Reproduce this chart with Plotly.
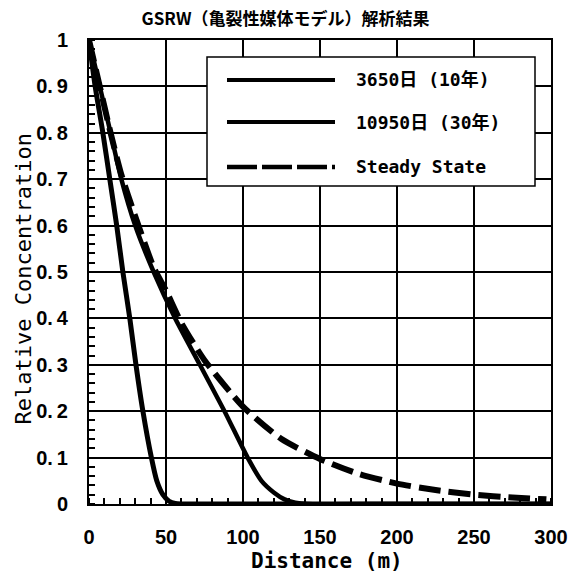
import plotly.graph_objects as go

# Distance (m) and relative concentration for each case
dist_10y = [0, 4, 9, 13.5, 18, 22, 26.5, 30.5, 35, 40.5, 44, 48, 52, 56, 60, 100, 200, 300]
conc_10y = [1.0, 0.9, 0.8, 0.7, 0.6, 0.5, 0.4, 0.3, 0.2, 0.1, 0.05, 0.02, 0.006, 0.001, 0.0, 0.0, 0.0, 0.0]

dist_30y = [0, 7, 14, 21, 30, 42, 56, 72, 88, 103, 112, 120, 127, 134, 142, 200, 300]
conc_30y = [1.0, 0.9, 0.8, 0.7, 0.6, 0.5, 0.4, 0.3, 0.2, 0.1, 0.05, 0.025, 0.01, 0.003, 0.0, 0.0, 0.0]

dist_ss = [0, 7, 14, 21, 30, 42, 50, 60, 75, 100, 125, 150, 175, 200, 225, 250, 275, 297]
conc_ss = [1.0, 0.9, 0.8, 0.71, 0.62, 0.51, 0.46, 0.39, 0.31, 0.21, 0.14, 0.097, 0.065, 0.044, 0.03, 0.02, 0.014, 0.01]

series_names = ["3650日 (10年)", "10950日 (30年)", "Steady State"]

x_ticks = [0, 50, 100, 150, 200, 250, 300]
x_ticktext = ["0", "50", "100", "150", "200", "250", "300"]
y_ticks = [0, 0.1, 0.2, 0.3, 0.4, 0.5, 0.6, 0.7, 0.8, 0.9, 1.0]
y_ticktext = ["0", "0.\u20091", "0.\u20092", "0.\u20093", "0.\u20094", "0.\u20095",
              "0.\u20096", "0.\u20097", "0.\u20098", "0.\u20099", "1"]

NUM_FONT = "Liberation Sans, Arial, sans-serif"
MONO_FONT = "DejaVu Sans Mono, Noto Sans CJK JP, monospace"
CJK_FONT = "Noto Sans CJK JP, sans-serif"

fig = go.Figure()
fig.add_trace(go.Scatter(x=dist_10y, y=conc_10y, mode="lines", name=series_names[0],
                         line=dict(color="black", width=5, shape="spline", smoothing=0.6)))
fig.add_trace(go.Scatter(x=dist_30y, y=conc_30y, mode="lines", name=series_names[1],
                         line=dict(color="black", width=4.5, shape="spline", smoothing=0.6)))
fig.add_trace(go.Scatter(x=dist_ss, y=conc_ss, mode="lines", name=series_names[2],
                         line=dict(color="black", width=6, dash="22px,8px", shape="spline", smoothing=0.6)))

# Hand-drawn legend box in paper coordinates
def px_x(p):
    return (p - 89) / 462.0

def px_y(p):
    return (504 - p) / 464.0

shapes = [dict(type="rect", xref="paper", yref="paper",
               x0=px_x(207), x1=px_x(535), y0=px_y(186), y1=px_y(57),
               line=dict(color="black", width=1.5), fillcolor="white", layer="above")]
legend_rows = [80, 122, 167]
legend_dash = ["solid", "solid", "30px,5px"]
legend_width = [4, 4, 4.5]
annotations = []
for row, name, dash, w in zip(legend_rows, series_names, legend_dash, legend_width):
    shapes.append(dict(type="line", xref="paper", yref="paper",
                       x0=px_x(227), x1=px_x(335), y0=px_y(row), y1=px_y(row),
                       line=dict(color="black", width=w, dash=dash), layer="above"))
    annotations.append(dict(xref="paper", yref="paper", x=px_x(354), y=px_y(row),
                            text=name, showarrow=False, xanchor="left", yanchor="middle",
                            font=dict(family=MONO_FONT, size=18, color="black", weight="bold")))

# Axis titles
annotations.append(dict(xref="paper", yref="paper", x=px_x(22.5), y=px_y(279),
                        text="Relative Concentration", textangle=-90, showarrow=False,
                        xanchor="center", yanchor="middle",
                        font=dict(family=MONO_FONT, size=22, color="black")))
annotations.append(dict(xref="paper", yref="paper", x=px_x(326.5), y=px_y(561),
                        text="Distance\u00a0(m)", showarrow=False,
                        xanchor="center", yanchor="middle",
                        font=dict(family=MONO_FONT, size=21, color="black", weight="bold")))

fig.update_layout(
    width=571, height=573,
    margin=dict(l=89, r=20, t=40, b=69),
    paper_bgcolor="white", plot_bgcolor="white",
    showlegend=False,
    title=dict(text="GSRW（亀裂性媒体モデル）解析結果", x=0.5, xref="container",
               y=1 - 19 / 573, yref="container", xanchor="center", yanchor="middle",
               font=dict(family=CJK_FONT, size=17, color="black", weight="bold")),
    shapes=shapes,
    annotations=annotations,
)

tick_font = dict(family=NUM_FONT, size=20, color="black", weight="bold")
fig.update_xaxes(range=[0, 300], tickvals=x_ticks, ticktext=x_ticktext, automargin=False,
                 showgrid=True, gridcolor="black", gridwidth=1.5,
                 showline=True, linecolor="black", linewidth=2, mirror=True,
                 ticks="", ticklabelstandoff=14, zeroline=False, ticklabeloverflow="allow",
                 tickfont=tick_font,
                 minor=dict(dtick=10, tick0=0, ticks="inside", ticklen=6,
                            tickwidth=1.5, tickcolor="black", showgrid=False))
fig.update_yaxes(range=[0, 1], tickvals=y_ticks, ticktext=y_ticktext, automargin=False,
                 showgrid=True, gridcolor="black", gridwidth=1.5,
                 showline=True, linecolor="black", linewidth=2, mirror=True,
                 ticks="", ticklabelstandoff=15, zeroline=False,
                 tickfont=tick_font,
                 minor=dict(dtick=0.02, tick0=0, ticks="inside", ticklen=6,
                            tickwidth=1.5, tickcolor="black", showgrid=False))

fig.write_html("out.html")
